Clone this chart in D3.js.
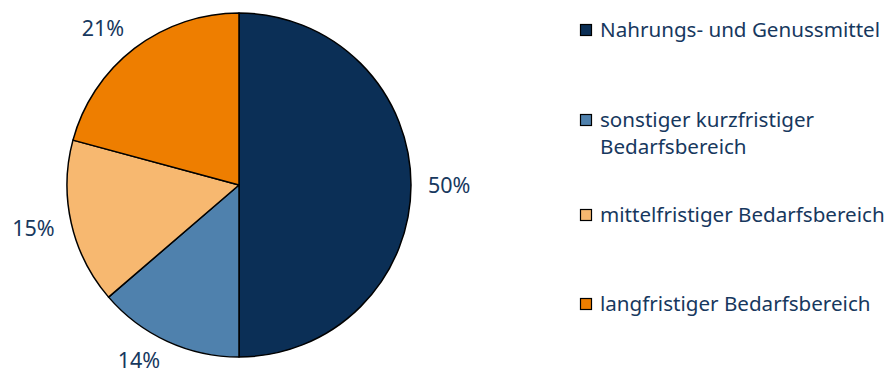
<!DOCTYPE html>
<html>
<head>
<meta charset="utf-8">
<script src="https://d3js.org/d3.v7.min.js"></script>
<style>
body { margin: 0; background: #fff; }
text { font-family: "Noto Sans", Lato, sans-serif; fill: #17385e; }
</style>
</head>
<body>
<svg class="chart"></svg>
<script>
// Anteile (im Bild gerundet angezeigt)
const categories = ["Nahrungs- und Genussmittel", "sonstiger kurzfristiger Bedarfsbereich", "mittelfristiger Bedarfsbereich", "langfristiger Bedarfsbereich"];
const legendLines = [["Nahrungs- und Genussmittel"], ["sonstiger kurzfristiger", "Bedarfsbereich"], ["mittelfristiger Bedarfsbereich"], ["langfristiger Bedarfsbereich"]];
const values = [50, 13.7, 15.5, 20.8];
const labels = ["50%", "14%", "15%", "21%"];
const colors = ["#0b2f56", "#4f81ad", "#f7b870", "#ee7e00"];

const w = 888, h = 376;
const cx = 239, cy = 185, r = 172;
const svg = d3.select(".chart").attr("width", w).attr("height", h);

const data = categories.map((c, i) => ({ name: c, value: values[i], label: labels[i], color: colors[i] }));
const pie = d3.pie().sort(null).value(d => d.value);
const arc = d3.arc().innerRadius(0).outerRadius(r);
const arcs = pie(data);

const g = svg.append("g").attr("transform", "translate(" + cx + "," + cy + ")");
g.selectAll("path").data(arcs).enter().append("path")
  .attr("d", arc)
  .attr("fill", d => d.data.color)
  .attr("stroke", "#000")
  .attr("stroke-width", 1.5)
  .attr("stroke-linejoin", "round");

// Datenbeschriftungen außerhalb
const lr = 189;
g.selectAll("text.lbl").data(arcs).enter().append("text")
  .attr("class", "lbl")
  .each(function (d) {
    const a = (d.startAngle + d.endAngle) / 2;
    const sx = Math.sin(a), sy = -Math.cos(a);
    const px = sx * lr, py = Math.min(sy * lr + sy * 8, h - cy - 16);
    d3.select(this)
      .attr("x", px)
      .attr("y", py)
      .attr("dy", "0.35em")
      .attr("text-anchor", sx > 0.1 ? "start" : (sx < -0.1 ? "end" : "middle"));
  })
  .style("font-size", "21.5px")
  .text(d => d.data.label);

// Legende
const legendY = [30, 120, 215, 304];
const leg = svg.append("g");
data.forEach((d, i) => {
  const row = leg.append("g").attr("transform", "translate(580," + legendY[i] + ")");
  row.append("rect").attr("x", 0.5).attr("y", -5.5).attr("width", 11).attr("height", 11)
    .attr("fill", d.color).attr("stroke", "#000").attr("stroke-width", 1.2);
  legendLines[i].forEach((t, j) => {
    row.append("text").attr("x", 20).attr("y", j * 27).attr("dy", "0.35em")
      .style("font-size", "20.6px").text(t);
  });
});
</script>
</body>
</html>
